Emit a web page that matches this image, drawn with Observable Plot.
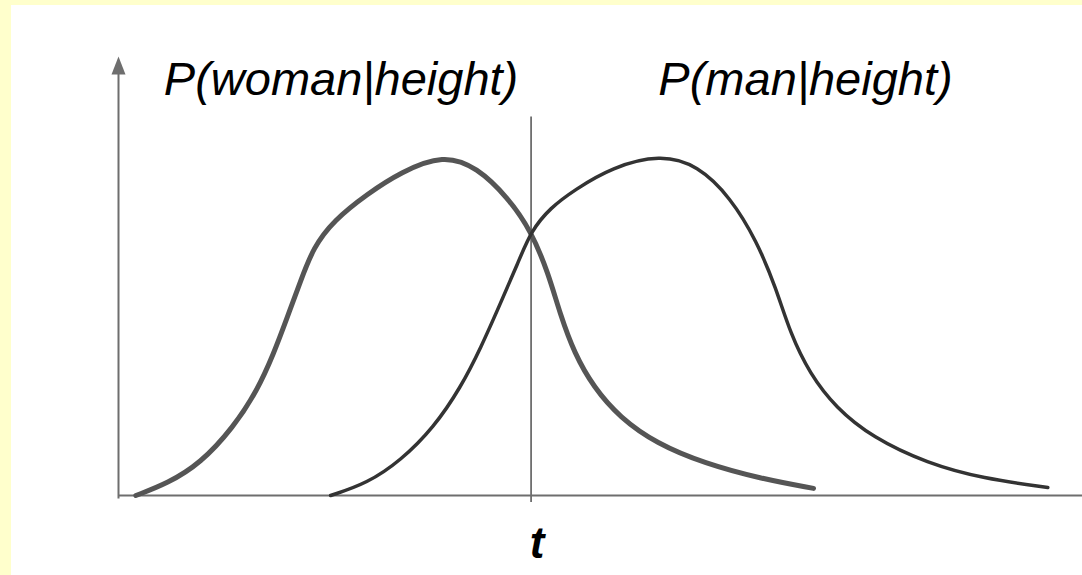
<!DOCTYPE html>
<html>
<head>
<meta charset="utf-8">
<script src="https://cdn.jsdelivr.net/npm/d3@7"></script>
<script src="https://cdn.jsdelivr.net/npm/@observablehq/plot@0.6"></script>
<style>
  html, body { margin: 0; padding: 0; background: #ffffcc; width: 1082px; height: 575px; overflow: hidden; }
  #panel { position: absolute; left: 11px; top: 5px; width: 1071px; height: 570px; background: #ffffff; }
  #panel svg { display: block; background: transparent; }
</style>
</head>
<body>
<div id="panel"></div>
<script>
// Conceptual posterior curves (x = height, arbitrary units 0..100; y = probability, peak ~1)
const womanX = [1.8, 5.1, 8.5, 11.9, 14.4, 16.1, 17.5, 18.9, 20.2, 22.3, 25.8, 29.3, 33.7, 37.2, 40.4, 42.8, 44.6, 45.8, 47.3, 49.3, 52.0, 55.8, 60.8, 66.6, 72.1];
const womanY = [0.0, 0.036, 0.095, 0.201, 0.311, 0.42, 0.527, 0.636, 0.734, 0.814, 0.893, 0.958, 1.01, 0.972, 0.882, 0.784, 0.657, 0.538, 0.42, 0.32, 0.231, 0.154, 0.095, 0.05, 0.021];
const manX = [22.0, 25.8, 29.3, 32.7, 35.5, 37.6, 39.6, 41.4, 42.8, 44.8, 47.3, 51.2, 56.2, 60.1, 63.5, 66.2, 68.2, 69.7, 71.7, 74.4, 78.2, 83.9, 89.7, 96.4];
const manY = [0.0, 0.036, 0.104, 0.201, 0.32, 0.438, 0.568, 0.686, 0.784, 0.852, 0.905, 0.972, 1.01, 0.978, 0.882, 0.754, 0.615, 0.479, 0.361, 0.26, 0.172, 0.095, 0.05, 0.024];
const threshold = 42.8;          // decision threshold t
const labels = ["P(woman|height)", "P(man|height)", "t"];
const labelX = [4.7, 56.0];
const labelY = 1.186;

const woman = womanX.map((x, i) => ({x, y: womanY[i]}));
const man = manX.map((x, i) => ({x, y: manY[i]}));

const arrowHead = {
  draw(context) {
    context.moveTo(0, 0);
    context.lineTo(7, 18);
    context.lineTo(-7, 18);
    context.closePath();
  }
};

const font = "Liberation Sans, Arial, sans-serif";

const chart = Plot.plot({
  width: 1071,
  height: 570,
  marginLeft: 107,
  marginRight: 0,
  marginTop: 51,
  marginBottom: 80,
  x: {domain: [0, 100], axis: null},
  y: {domain: [0, 1.3], axis: null},
  style: {background: "transparent", overflow: "visible"},
  marks: [
    // x axis
    Plot.ruleY([0], {x1: 0, x2: 100, stroke: "#6e6e6e", strokeWidth: 2}),
    // y axis with arrow
    Plot.ruleX([0], {y1: -0.01, y2: 1.27, stroke: "#6e6e6e", strokeWidth: 2}),
    Plot.dot([{x: 0, y: 1.3}], {x: "x", y: "y", symbol: arrowHead, fill: "#6e6e6e", stroke: "none"}),
    // threshold line
    Plot.ruleX([threshold], {y1: -0.021, y2: 1.121, stroke: "#6e6e6e", strokeWidth: 1.8}),
    // curves
    Plot.line(woman, {x: "x", y: "y", curve: "basis", stroke: "#555555", strokeWidth: 5}),
    Plot.line(man, {x: "x", y: "y", curve: "basis", stroke: "#333333", strokeWidth: 3.5}),
    // labels
    Plot.text([labels[0]], {x: labelX[0], y: labelY, text: d => d, textAnchor: "start", lineAnchor: "bottom",
      fontFamily: font, fontStyle: "italic", fontSize: 47, fill: "#000"}),
    Plot.text([labels[1]], {x: labelX[1], y: labelY, text: d => d, textAnchor: "start", lineAnchor: "bottom",
      fontFamily: font, fontStyle: "italic", fontSize: 47, fill: "#000"}),
    Plot.text([labels[2]], {x: threshold, y: -0.186, dx: 6, text: d => d, textAnchor: "middle", lineAnchor: "bottom",
      fontFamily: font, fontStyle: "italic", fontWeight: "bold", fontSize: 44, fill: "#000"})
  ]
});
document.getElementById("panel").appendChild(chart);
</script>
</body>
</html>
